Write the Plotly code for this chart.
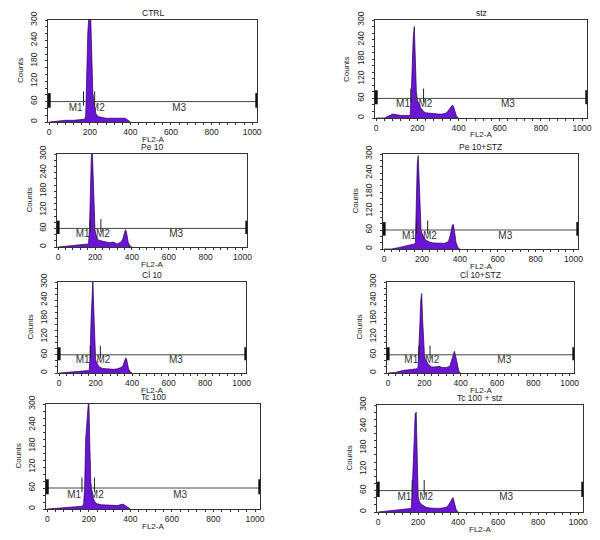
import plotly.graph_objects as go

# channel positions (FL2-A) where the histogram counts were read
channels = [0, 40, 80, 120, 160, 165, 170, 175, 180, 185, 190, 195, 200, 205, 210, 215, 220,
            230, 240, 260, 280, 300, 320, 340, 350, 360, 365, 370, 375, 380, 390, 400]

# counts for each sample
ctrl = [0, 3, 5, 5, 6, 6, 7, 8, 20, 150, 260, 310, 320, 300, 150, 85, 60,
        25, 16, 13, 11, 11, 11, 11, 12, 13, 13, 12, 11, 9, 3, 0]
stz = [0, 0, 12, 8, 8, 10, 70, 180, 250, 280, 150, 80, 55, 45, 38, 32, 28,
       20, 16, 14, 13, 12, 12, 15, 22, 32, 38, 40, 36, 25, 5, 0]
pe10 = [0, 2, 4, 6, 8, 10, 60, 200, 290, 320, 200, 90, 55, 40, 30, 25, 22,
        20, 18, 16, 14, 16, 10, 15, 25, 45, 56, 50, 35, 15, 3, 0]
pe10_stz = [0, 0, 5, 10, 16, 20, 150, 270, 295, 200, 100, 60, 50, 42, 38, 32, 28,
            24, 22, 19, 18, 18, 18, 24, 45, 75, 78, 62, 40, 20, 4, 0]
cl10 = [0, 2, 3, 5, 8, 10, 60, 170, 300, 310, 210, 80, 45, 35, 28, 24, 20,
        17, 15, 14, 12, 12, 14, 18, 25, 42, 50, 45, 30, 15, 3, 0]
cl10_stz = [0, 2, 8, 10, 14, 20, 70, 160, 240, 262, 180, 110, 60, 45, 40, 34, 30,
            25, 20, 20, 22, 18, 18, 22, 40, 65, 72, 62, 48, 25, 5, 0]
tc100 = [0, 2, 3, 4, 6, 7, 8, 15, 60, 200, 250, 310, 320, 180, 75, 50, 32,
         20, 15, 12, 11, 10, 10, 10, 12, 14, 14, 12, 10, 8, 2, 0]
tc100_stz = [0, 2, 4, 6, 8, 10, 60, 140, 175, 275, 280, 120, 42, 30, 25, 22, 20,
             16, 13, 11, 10, 10, 11, 13, 18, 26, 32, 38, 40, 28, 6, 0]

titles = ['CTRL', 'stz', 'Pe 10', 'Pe 10+STZ', 'Cl 10', 'Cl 10+STZ', 'Tc 100', 'Tc 100 + stz']
series = [ctrl, stz, pe10, pe10_stz, cl10, cl10_stz, tc100, tc100_stz]

# marker gates M1 | M2 | M3 (channel where M1 and M2 end)
m1_end = [169, 168, 175, 172, 171, 170, 167, 170]
m2_end = [224, 230, 232, 230, 226, 231, 227, 230]
gate_level = 60
gate_max = 1023

# panel boxes in pixels of the picture: left, right, top, bottom
boxes = [(48, 257, 20, 122), (375, 587, 20, 118),
         (57, 247, 154, 247), (383, 578, 154, 249),
         (58, 246, 282, 373), (387, 574, 282, 373),
         (46, 260, 404, 509), (377, 583, 405, 512)]

W, H = 600, 540
OFF = 8  # page body margin of the browser
fill_col = '#6A14D6'
font = dict(family='Liberation Sans, Arial', size=8.5, color='#222')
small = dict(font, size=8.5)


def px(v):
    return (v - OFF) / W


def py(v):
    return 1 - (v - OFF) / H


fig = go.Figure()
layout = {}
annotations = []

for i, (name, counts) in enumerate(zip(titles, series)):
    n = '' if i == 0 else str(i + 1)
    xa, ya = 'x' + n, 'y' + n
    l, r, t, b = boxes[i]

    # marker labels (drawn first so the histogram covers them)
    fig.add_trace(go.Scatter(
        x=[m1_end[i] - 4, 205, 640], y=[40, 40, 40], mode='text',
        text=['M1', 'M2', 'M3'], textposition=['middle left', 'middle right', 'middle center'],
        textfont=dict(family='Liberation Sans, Arial', size=10, color='#333'),
        xaxis=xa, yaxis=ya, showlegend=False, hoverinfo='skip'))

    fig.add_trace(go.Scatter(
        x=channels, y=counts, mode='lines', fill='tozeroy',
        fillcolor=fill_col, line=dict(color='#25004f', width=0.7),
        xaxis=xa, yaxis=ya, showlegend=False))

    # gate line
    fig.add_trace(go.Scatter(
        x=[0, gate_max], y=[gate_level, gate_level], mode='lines',
        line=dict(color='#444', width=1), xaxis=xa, yaxis=ya,
        showlegend=False, hoverinfo='skip'))
    # end bars
    for gx in [0, gate_max]:
        fig.add_trace(go.Scatter(
            x=[gx, gx], y=[42, 85], mode='lines', line=dict(color='#111', width=3),
            xaxis=xa, yaxis=ya, showlegend=False, hoverinfo='skip'))
    # inner ticks
    for gx in [m1_end[i], m2_end[i]]:
        fig.add_trace(go.Scatter(
            x=[gx, gx], y=[48, 90], mode='lines', line=dict(color='#222', width=1),
            xaxis=xa, yaxis=ya, showlegend=False, hoverinfo='skip'))

    common = dict(showline=True, linecolor='#333', linewidth=1, mirror=True,
                  ticks='outside', ticklen=2, tickcolor='#333', showgrid=False,
                  zeroline=False, automargin=False, tickfont=small)
    layout['xaxis' + n] = dict(
        common, domain=[px(l), px(r)], anchor=ya, range=[-6, 1024],
        tickvals=[0, 200, 400, 600, 800, 1000], ticklabelstandoff=0,
        minor=dict(ticks='outside', ticklen=2, dtick=40, tick0=0, tickcolor='#333'))
    layout['yaxis' + n] = dict(
        common, domain=[py(b), py(t)], anchor=xa, range=[0, 300],
        tickvals=[0, 60, 120, 180, 240, 300], tickangle=-90, ticklabelstandoff=5,
        minor=dict(ticks='outside', ticklen=2, dtick=20, tick0=0, tickcolor='#333'))

    annotations.append(dict(
        text=name, x=px((l + r) / 2), y=py(t - 7), xref='paper', yref='paper',
        showarrow=False, font=font, xanchor='center', yanchor='middle'))
    annotations.append(dict(
        text='FL2-A', x=px((l + r) / 2), y=py(b + 17), xref='paper', yref='paper',
        showarrow=False, font=dict(font, size=8), xanchor='center', yanchor='middle'))
    annotations.append(dict(
        text='Counts', x=px(l - 28), y=py((t + b) / 2), xref='paper', yref='paper',
        showarrow=False, font=dict(font, size=8), textangle=-90,
        xanchor='center', yanchor='middle'))

fig.update_layout(
    template='none', width=W, height=H,
    margin=dict(l=0, r=0, t=0, b=0),
    paper_bgcolor='white', plot_bgcolor='white',
    annotations=annotations, **layout)

fig.write_html("out.html")
